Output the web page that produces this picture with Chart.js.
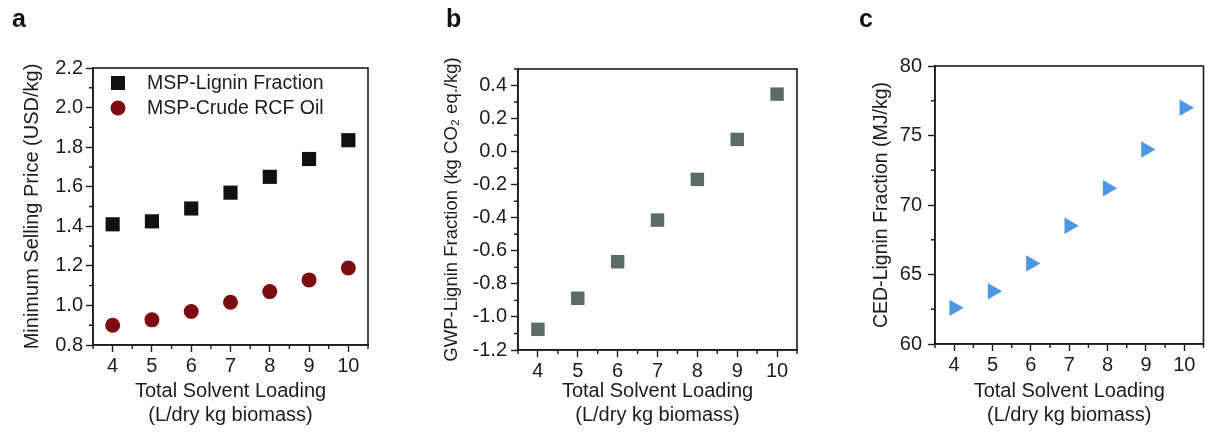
<!DOCTYPE html>
<html>
<head>
<meta charset="utf-8">
<script src="https://cdn.jsdelivr.net/npm/chart.js@4.4.0/dist/chart.umd.min.js"></script>
<style>
  body { margin: 0; background: #fff; }
  #wrap { position: relative; width: 1213px; height: 436px; overflow: hidden; }
  canvas { position: absolute; top: 0; }
  .tag { position: absolute; top: 6px; font: bold 25px "Liberation Sans", Arial, sans-serif; line-height: 25px; color: #111; }
</style>
</head>
<body>
<div id="wrap">
  <canvas id="chartA" width="400" height="436" style="left:0"></canvas>
  <canvas id="chartB" width="410" height="436" style="left:400px"></canvas>
  <canvas id="chartC" width="403" height="436" style="left:810px"></canvas>
  <div class="tag" style="left:12px">a</div>
  <div class="tag" style="left:446px">b</div>
  <div class="tag" style="left:859px">c</div>
</div>
<script>
// dane
const solventLoading = [4, 5, 6, 7, 8, 9, 10];
const mspLignin = [1.41, 1.425, 1.49, 1.57, 1.65, 1.74, 1.835];
const mspCrudeOil = [0.90, 0.927, 0.969, 1.016, 1.07, 1.129, 1.189];
const gwpLignin = [-1.075, -0.887, -0.666, -0.414, -0.168, 0.074, 0.348];
const cedLignin = [62.6, 63.8, 65.8, 68.5, 71.2, 74.0, 77.0];

const xTicks = [4, 5, 6, 7, 8, 9, 10];
const yTicksA = [0.8, 1.0, 1.2, 1.4, 1.6, 1.8, 2.0, 2.2];
const yTicksB = [-1.2, -1.0, -0.8, -0.6, -0.4, -0.2, 0.0, 0.2, 0.4];
const yTicksC = [60, 65, 70, 75, 80];

const INK = '#1c1c1c';
const FONT = '"Liberation Sans", Arial, sans-serif';

Chart.defaults.font.family = FONT;
Chart.defaults.font.size = 20;
Chart.defaults.color = INK;

const toPoints = ys => solventLoading.map((x, i) => ({ x: x, y: ys[i] }));

// ramka wykresu + krótkie podziałki pomocnicze
const frame = {
  id: 'frame',
  afterDraw(chart, args, opts) {
    const { ctx, chartArea: a, scales } = chart;
    ctx.save();
    ctx.strokeStyle = INK;
    ctx.lineWidth = 1.6;
    ctx.strokeRect(a.left, a.top, a.right - a.left, a.bottom - a.top);
    ctx.lineWidth = 1.4;
    ctx.beginPath();
    const minor = (scale, step, majors, fn) => {
      for (let i = 0; ; i++) {
        const v = scale.min + i * step;
        if (v > scale.max + 1e-9) break;
        if (majors.some(m => Math.abs(m - v) < 1e-6)) continue;
        fn(scale.getPixelForValue(v));
      }
    };
    minor(scales.x, opts.xStep, xTicks, px => { ctx.moveTo(px, a.bottom); ctx.lineTo(px, a.bottom + 4); });
    minor(scales.y, opts.yStep, opts.yMajors, py => { ctx.moveTo(a.left, py); ctx.lineTo(a.left - 4, py); });
    ctx.stroke();
    ctx.restore();
  }
};

// legenda w środku obszaru wykresu
const insideLegend = {
  id: 'insideLegend',
  afterDatasetsDraw(chart, args, opts) {
    if (!opts.show) return;
    const { ctx, chartArea: a } = chart;
    ctx.save();
    ctx.font = '19.5px ' + FONT;
    ctx.textBaseline = 'middle';
    chart.data.datasets.forEach((ds, i) => {
      const cx = a.left + 25;
      const cy = a.top + 15 + i * 25;
      ctx.fillStyle = ds.backgroundColor;
      ctx.beginPath();
      if (ds.pointStyle === 'circle') ctx.arc(cx, cy, 7.5, 0, Math.PI * 2);
      else ctx.rect(cx - 7, cy - 7, 14, 14);
      ctx.fill();
      ctx.fillStyle = INK;
      ctx.fillText(ds.label, a.left + 54, cy + 1);
    });
    ctx.restore();
  }
};

function makePanel(id, p) {
  return new Chart(document.getElementById(id), {
    type: 'scatter',
    data: { datasets: p.datasets },
    plugins: [frame, insideLegend],
    options: {
      responsive: false,
      animation: false,
      devicePixelRatio: 1,
      layout: { padding: { left: 0, right: p.padRight, top: p.padTop, bottom: 0 } },
      plugins: {
        legend: { display: false },
        tooltip: { enabled: false },
        frame: { xStep: 0.5, yStep: p.yStep, yMajors: p.yTicks },
        insideLegend: { show: !!p.legend }
      },
      scales: {
        x: {
          type: 'linear',
          min: 3.5,
          max: 10.5,
          afterBuildTicks: s => { s.ticks = xTicks.map(v => ({ value: v })); },
          afterFit: s => { s.height = 436 - p.bottom; },
          ticks: { padding: 2, autoSkip: false, maxRotation: 0, color: INK, callback: v => String(v) },
          grid: { drawOnChartArea: false, drawTicks: true, tickLength: 7, tickColor: INK, tickWidth: 1.4 },
          border: { display: true, color: INK, width: 1.6 },
          title: {
            display: true,
            text: ['Total Solvent Loading', '(L/dry kg biomass)'],
            color: INK,
            font: { size: 20, lineHeight: 1.17 },
            padding: { top: 0, bottom: 9 }
          }
        },
        y: {
          type: 'linear',
          min: p.yMin,
          max: p.yMax,
          afterBuildTicks: s => { s.ticks = p.yTicks.map(v => ({ value: v })); },
          afterFit: s => { s.width = p.yWidth; },
          ticks: { padding: p.labelPad, color: INK, callback: v => v.toFixed(p.decimals) },
          grid: { drawOnChartArea: false, drawTicks: true, tickLength: 7, tickColor: INK, tickWidth: 1.4 },
          border: { display: true, color: INK, width: 1.6 },
          title: {
            display: true,
            text: p.yTitle,
            color: INK,
            font: { size: p.titleSize, lineHeight: 1.2 },
            padding: { top: p.titlePad, bottom: 0 }
          }
        }
      }
    }
  });
}

makePanel('chartA', {
  datasets: [
    { label: 'MSP-Lignin Fraction', data: toPoints(mspLignin), pointStyle: 'rect', pointRadius: 10,
      backgroundColor: '#111111', borderWidth: 0 },
    { label: 'MSP-Crude RCF Oil', data: toPoints(mspCrudeOil), pointStyle: 'circle', pointRadius: 7.5,
      backgroundColor: '#7a0c12', borderWidth: 0 }
  ],
  legend: true,
  yMin: 0.8, yMax: 2.2, yTicks: yTicksA, yStep: 0.1, decimals: 1,
  yTitle: 'Minimum Selling Price (USD/kg)', titleSize: 20,
  yWidth: 93, titlePad: 20, labelPad: 3, padTop: 68, padRight: 32, bottom: 345
});

makePanel('chartB', {
  datasets: [
    { label: 'GWP-Lignin Fraction', data: toPoints(gwpLignin), pointStyle: 'rect', pointRadius: 9.5,
      backgroundColor: '#5b6b68', borderWidth: 0 }
  ],
  yMin: -1.2, yMax: 0.5, yTicks: yTicksB, yStep: 0.1, decimals: 1,
  yTitle: 'GWP-Lignin Fraction (kg CO\u2082 eq./kg)', titleSize: 18.5,
  yWidth: 118, titlePad: 41, labelPad: 4, padTop: 69, padRight: 13, bottom: 350
});

makePanel('chartC', {
  datasets: [
    { label: 'CED-Lignin Fraction', data: toPoints(cedLignin), pointStyle: 'triangle', rotation: 90, pointRadius: 9.5,
      backgroundColor: '#4d96e3', borderWidth: 0 }
  ],
  yMin: 60, yMax: 80, yTicks: yTicksC, yStep: 2.5, decimals: 0,
  yTitle: 'CED-Lignin Fraction (MJ/kg)', titleSize: 19.5,
  yWidth: 125, titlePad: 60, labelPad: 6, padTop: 66, padRight: 2, bottom: 344
});
</script>
</body>
</html>
